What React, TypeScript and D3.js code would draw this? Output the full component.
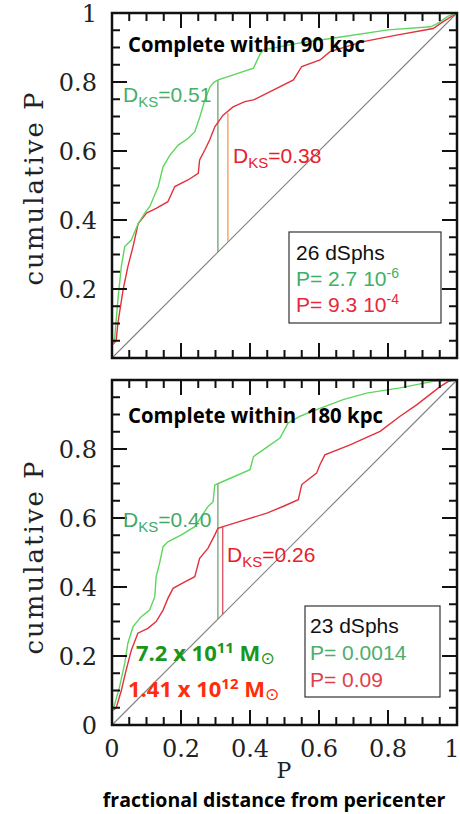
import React from 'react';
import * as d3 from 'd3';

// ---------- data ----------
const xTickValues = [0, 0.2, 0.4, 0.6, 0.8, 1];
const xTickLabels = ['0', '0.2', '0.4', '0.6', '0.8', '1'];
const topYTickValues = [0.2, 0.4, 0.6, 0.8, 1];
const topYTickLabels = ['0.2', '0.4', '0.6', '0.8', '1'];
const botYTickValues = [0, 0.2, 0.4, 0.6, 0.8];
const botYTickLabels = ['0', '0.2', '0.4', '0.6', '0.8'];

// Complete within 90 kpc
const top90Green: [number, number][] = [
  [0.003, 0.04], [0.008, 0.06], [0.017, 0.168], [0.027, 0.265], [0.037, 0.323], [0.056, 0.342],
  [0.076, 0.39], [0.095, 0.42], [0.11, 0.44], [0.134, 0.497], [0.148, 0.554], [0.168, 0.588],
  [0.192, 0.617], [0.221, 0.637], [0.24, 0.656], [0.255, 0.7], [0.269, 0.748], [0.284, 0.786],
  [0.296, 0.8], [0.308, 0.806], [0.41, 0.84], [0.43, 0.883], [0.44, 0.893], [0.537, 0.912],
  [0.634, 0.926], [0.8, 0.951], [0.924, 0.96], [0.944, 0.97], [0.973, 0.99], [1, 1],
];
const top90Red: [number, number][] = [
  [0.003, 0.04], [0.012, 0.05], [0.017, 0.1], [0.032, 0.197], [0.046, 0.265], [0.061, 0.323],
  [0.076, 0.39], [0.1, 0.42], [0.128, 0.434], [0.162, 0.453], [0.182, 0.497], [0.22, 0.516],
  [0.25, 0.535], [0.254, 0.574], [0.269, 0.603], [0.283, 0.632], [0.298, 0.67], [0.322, 0.704],
  [0.351, 0.728], [0.385, 0.743], [0.41, 0.748], [0.526, 0.806], [0.55, 0.845], [0.603, 0.864],
  [0.632, 0.888], [0.728, 0.917], [0.825, 0.936], [0.931, 0.955], [0.96, 0.975], [1, 1],
];
// Complete within 180 kpc
const bot180Green: [number, number][] = [
  [0.003, 0.043], [0.022, 0.111], [0.037, 0.179], [0.046, 0.237], [0.061, 0.285], [0.085, 0.314],
  [0.109, 0.333], [0.124, 0.372], [0.128, 0.43], [0.138, 0.469], [0.148, 0.517], [0.162, 0.531],
  [0.201, 0.551], [0.24, 0.575], [0.259, 0.604], [0.278, 0.633], [0.293, 0.647], [0.298, 0.696],
  [0.308, 0.7], [0.4, 0.74], [0.41, 0.778], [0.439, 0.798], [0.487, 0.832], [0.51, 0.875],
  [0.545, 0.895], [0.593, 0.914], [0.67, 0.943], [0.738, 0.962], [0.835, 0.977], [0.93, 0.996], [1, 1],
];
const bot180Red: [number, number][] = [
  [0.003, 0.043], [0.012, 0.049], [0.027, 0.1], [0.041, 0.159], [0.056, 0.217], [0.075, 0.266],
  [0.104, 0.28], [0.128, 0.3], [0.148, 0.333], [0.162, 0.367], [0.177, 0.396], [0.211, 0.415],
  [0.24, 0.43], [0.254, 0.483], [0.278, 0.512], [0.298, 0.551], [0.307, 0.57], [0.322, 0.575],
  [0.371, 0.59], [0.449, 0.614], [0.497, 0.634], [0.54, 0.653], [0.55, 0.697], [0.593, 0.73],
  [0.603, 0.755], [0.617, 0.783], [0.69, 0.812], [0.777, 0.851], [0.835, 0.895], [0.883, 0.928],
  [0.95, 0.98], [0.975, 0.996], [1, 1],
];

// KS distance segments: [P, upper cumulative]
const topKsGreen: [number, number] = [0.307, 0.806];
const topKsRed: [number, number] = [0.336, 0.71];
const botKsGreen: [number, number] = [0.307, 0.7];
const botKsRed: [number, number] = [0.321, 0.575];

const topTitle = 'Complete within 90 kpc';
const botTitle = 'Complete within  180 kpc';

// ---------- styles ----------
const X0 = 112;
const X1 = 457;
const GREEN = '#5ed65e';
const RED = '#e3303c';
const SANS = '"Liberation Sans", Arial, sans-serif';
const SERIF = '"DejaVu Serif", serif';
const BOLD = '"Open Sans", sans-serif';

const x = d3.scaleLinear().domain([0, 1]).range([X0, X1]);
const minorTicks = d3.range(0, 21).map((i) => i / 20);

type PanelProps = {
  yRange: [number, number];
  green: [number, number][];
  red: [number, number][];
  ksGreen: [number, number];
  ksRed: [number, number];
  ksGreenColor: string;
  ksRedColor: string;
  yTicks: number[];
  yLabels: string[];
  showX: boolean;
};

function Panel(p: PanelProps) {
  const y = d3.scaleLinear().domain([0, 1]).range(p.yRange);
  const line = d3
    .line<[number, number]>()
    .x((d) => x(d[0]))
    .y((d) => y(d[1]));
  const yb = y(0);
  const yt = y(1);
  const isMajor = (v: number) => Math.abs(v * 5 - Math.round(v * 5)) < 1e-6;
  return (
    <g>
      <path d={line([[0, 0], [1, 1]]) || ''} stroke="#808080" strokeWidth={1.1} fill="none" />
      <line x1={x(p.ksGreen[0])} x2={x(p.ksGreen[0])} y1={y(p.ksGreen[1])} y2={y(p.ksGreen[0])} stroke={p.ksGreenColor} strokeWidth={1.2} />
      <line x1={x(p.ksRed[0])} x2={x(p.ksRed[0])} y1={y(p.ksRed[1])} y2={y(p.ksRed[0])} stroke={p.ksRedColor} strokeWidth={1.2} />
      <path d={line(p.red) || ''} stroke={RED} strokeWidth={1.4} fill="none" />
      <path d={line(p.green) || ''} stroke={GREEN} strokeWidth={1.4} fill="none" />
      {minorTicks.map((v, i) => {
        const len = isMajor(v) ? 15 : 8;
        return (
          <g key={'t' + i} stroke="#111" strokeWidth={2}>
            <line x1={x(v)} x2={x(v)} y1={yb} y2={yb - len} />
            <line x1={x(v)} x2={x(v)} y1={yt} y2={yt + len} />
            <line x1={X0} x2={X0 + len} y1={y(v)} y2={y(v)} />
            <line x1={X1} x2={X1 - len} y1={y(v)} y2={y(v)} />
          </g>
        );
      })}
      <rect x={X0} y={yt} width={X1 - X0} height={yb - yt} fill="none" stroke="#111" strokeWidth={2.5} />
      {p.yTicks.map((v, i) => (
        <text key={'yl' + i} x={97} y={y(v)} dy="0.36em" textAnchor="end" fontFamily={SERIF} fontSize={24} fill="#222">
          {p.yLabels[i]}
        </text>
      ))}
      {p.showX &&
        xTickValues.map((v, i) => (
          <text key={'xl' + i} x={Math.min(x(v), 452)} y={757} textAnchor="middle" fontFamily={SERIF} fontSize={24} fill="#222">
            {xTickLabels[i]}
          </text>
        ))}
    </g>
  );
}

function Dks({ xPos, yPos, value, color }: { xPos: number; yPos: number; value: string; color: string }) {
  return (
    <text x={xPos} y={yPos} fontFamily={SANS} fontSize={21} fill={color}>
      <tspan>D</tspan>
      <tspan fontSize={15} dy={5}>KS</tspan>
      <tspan dy={-5}>{value}</tspan>
    </text>
  );
}

export default function App() {
  return (
    <svg
      width={460}
      height={814}
      viewBox="0 0 460 814"
      style={{ position: 'absolute', left: 0, top: 0, background: '#fff' }}
    >
      <rect x={0} y={0} width={460} height={814} fill="#fff" />
      <Panel
        yRange={[358, 13]}
        green={top90Green}
        red={top90Red}
        ksGreen={topKsGreen}
        ksRed={topKsRed}
        ksGreenColor="#5f9a66"
        ksRedColor="#f0944a"
        yTicks={topYTickValues}
        yLabels={topYTickLabels}
        showX={false}
      />
      <Panel
        yRange={[725, 380]}
        green={bot180Green}
        red={bot180Red}
        ksGreen={botKsGreen}
        ksRed={botKsRed}
        ksGreenColor="#6a9a6a"
        ksRedColor="#d84050"
        yTicks={botYTickValues}
        yLabels={botYTickLabels}
        showX={true}
      />

      <text x={128} y={52} fontFamily={BOLD} fontWeight={700} fontSize={21} fill="#000" textLength={237} lengthAdjust="spacingAndGlyphs">
        {topTitle}
      </text>
      <text x={128} y={423} fontFamily={BOLD} fontWeight={700} fontSize={21} fill="#000" style={{ whiteSpace: 'pre' }} textLength={255} lengthAdjust="spacingAndGlyphs">
        {botTitle}
      </text>

      <Dks xPos={123} yPos={102} value="=0.51" color="#45b068" />
      <Dks xPos={233} yPos={163} value="=0.38" color="#e8202c" />
      <Dks xPos={123} yPos={527} value="=0.40" color="#45a868" />
      <Dks xPos={227} yPos={562} value="=0.26" color="#e8202c" />

      <rect x={289} y={232} width={152} height={91} fill="#fff" stroke="#333" strokeWidth={1.2} />
      <text x={296} y={260} fontFamily={SANS} fontSize={21} fill="#111">26 dSphs</text>
      <text x={296} y={286} fontFamily={SANS} fontSize={21} fill="#3cb068">
        P= 2.7 10<tspan fontSize={14} dy={-8}>-6</tspan>
      </text>
      <text x={296} y={312} fontFamily={SANS} fontSize={21} fill="#e8283c">
        P= 9.3 10<tspan fontSize={14} dy={-8}>-4</tspan>
      </text>

      <rect x={305} y={606} width={135} height={91} fill="#fff" stroke="#333" strokeWidth={1.2} />
      <text x={310} y={633} fontFamily={SANS} fontSize={21} fill="#111">23 dSphs</text>
      <text x={310} y={660} fontFamily={SANS} fontSize={21} fill="#4cae6a">P= 0.0014</text>
      <text x={310} y={687} fontFamily={SANS} fontSize={21} fill="#e0404c">P= 0.09</text>

      <text x={136} y={661} fontFamily={BOLD} fontWeight={700} fontSize={22} fill="#1a961a">
        7.2 x 10<tspan fontSize={15} dy={-8}>11</tspan>
        <tspan dy={8}> M</tspan>
        <tspan fontFamily='"DejaVu Sans", sans-serif' fontWeight={400} fontSize={17} dy={3}>⊙</tspan>
      </text>
      <text x={128} y={697} fontFamily={BOLD} fontWeight={700} fontSize={22} fill="#ff2d0a">
        1.41 x 10<tspan fontSize={15} dy={-8}>12</tspan>
        <tspan dy={8}> M</tspan>
        <tspan fontFamily='"DejaVu Sans", sans-serif' fontWeight={400} fontSize={17} dy={3}>⊙</tspan>
      </text>

      <text transform="translate(43,188) rotate(-90)" textAnchor="middle" fontFamily={SERIF} fontSize={26} letterSpacing={2} fill="#222">
        cumulative P
      </text>
      <text transform="translate(43,557) rotate(-90)" textAnchor="middle" fontFamily={SERIF} fontSize={26} letterSpacing={2} fill="#222">
        cumulative P
      </text>
      <text x={284} y={778} textAnchor="middle" fontFamily={SERIF} fontSize={22} fill="#222">P</text>
      <text x={274} y={807} textAnchor="middle" fontFamily={BOLD} fontWeight={700} fontSize={19.5} fill="#000">
        fractional distance from pericenter
      </text>
    </svg>
  );
}
